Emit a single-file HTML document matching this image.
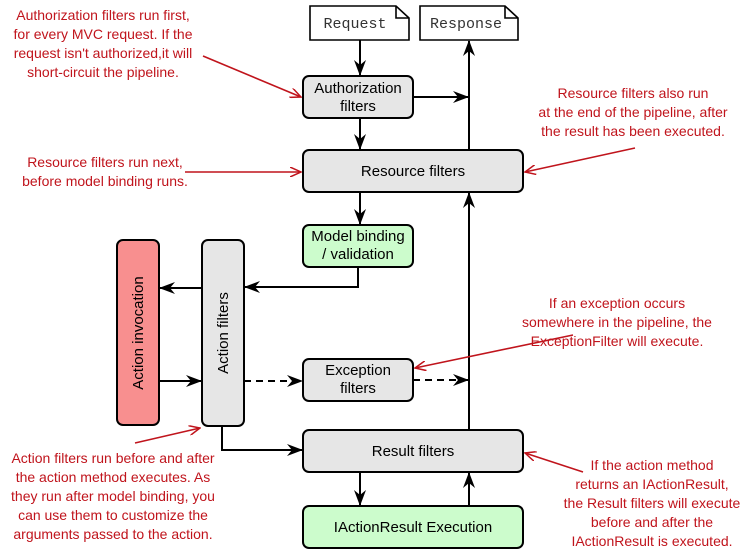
<!DOCTYPE html>
<html><head><style>
body{margin:0;background:#fff;}
svg{display:block;font-family:"Liberation Sans",Arial,sans-serif;}
.r{fill:#c0141c;font-size:14px;text-anchor:middle;}
.b{font-size:15px;text-anchor:middle;fill:#000;}
</style></head><body>
<svg width="755" height="556" viewBox="0 0 755 556" xmlns="http://www.w3.org/2000/svg">
<defs>
<marker id="a" markerWidth="16" markerHeight="12" refX="15" refY="6" orient="auto" markerUnits="userSpaceOnUse"><path d="M0,0 L16,6 L0,12 L5,6 Z" fill="#000"/></marker>
<marker id="ra" markerWidth="12" markerHeight="10" refX="11" refY="5" orient="auto" markerUnits="userSpaceOnUse"><path d="M0,0 L11,5 L0,10" fill="none" stroke="#c0141c" stroke-width="1.5"/></marker>
</defs>
<path d="M310,6 H396 L409,18 V40 H310 Z" fill="#fff" stroke="#000" stroke-width="1.6"/>
<path d="M396,6 V18 H409" fill="none" stroke="#000" stroke-width="1.6"/>
<text x="355" y="28" font-family="Liberation Mono,monospace" font-size="15" text-anchor="middle" fill="#333">Request</text>
<path d="M420,6 H505 L518,18 V40 H420 Z" fill="#fff" stroke="#000" stroke-width="1.6"/>
<path d="M505,6 V18 H518" fill="none" stroke="#000" stroke-width="1.6"/>
<text x="466" y="28" font-family="Liberation Mono,monospace" font-size="15" text-anchor="middle" fill="#333">Response</text>
<g stroke="#000" stroke-width="2" fill="none">
<line x1="360" y1="40" x2="360" y2="75" marker-end="url(#a)"/>
<line x1="360" y1="118" x2="360" y2="149" marker-end="url(#a)"/>
<line x1="413" y1="97" x2="468" y2="97" marker-end="url(#a)"/>
<line x1="469" y1="150" x2="469" y2="41" marker-end="url(#a)"/>
<line x1="469" y1="430" x2="469" y2="193" marker-end="url(#a)"/>
<line x1="360" y1="192" x2="360" y2="224" marker-end="url(#a)"/>
<polyline points="358,267 358,287 245,287" marker-end="url(#a)"/>
<line x1="202" y1="288" x2="160" y2="288" marker-end="url(#a)"/>
<line x1="159" y1="381" x2="201" y2="381" marker-end="url(#a)"/>
<line x1="244" y1="381" x2="302" y2="381" stroke-dasharray="7,5" marker-end="url(#a)"/>
<line x1="413" y1="380" x2="468" y2="380" stroke-dasharray="7,5" marker-end="url(#a)"/>
<polyline points="222,426 222,450 302,450" marker-end="url(#a)"/>
<line x1="360" y1="472" x2="360" y2="505" marker-end="url(#a)"/>
<line x1="469" y1="506" x2="469" y2="473" marker-end="url(#a)"/>
</g>
<g stroke="#000" stroke-width="2">
<rect x="303" y="76" width="110" height="42" rx="6" fill="#e6e6e6"/>
<rect x="303" y="150" width="220" height="42" rx="6" fill="#e6e6e6"/>
<rect x="303" y="225" width="110" height="42" rx="6" fill="#ccfccc"/>
<rect x="117" y="240" width="42" height="185" rx="6" fill="#f88f8f"/>
<rect x="202" y="240" width="42" height="186" rx="6" fill="#e6e6e6"/>
<rect x="303" y="359" width="110" height="42" rx="6" fill="#e6e6e6"/>
<rect x="303" y="430" width="220" height="42" rx="6" fill="#e6e6e6"/>
<rect x="303" y="506" width="220" height="42" rx="6" fill="#ccfccc"/>
</g>
<text class="b" x="358" y="93">Authorization</text>
<text class="b" x="358" y="111">filters</text>
<text class="b" x="413" y="176">Resource filters</text>
<text class="b" x="358" y="241">Model binding</text>
<text class="b" x="358" y="259">/ validation</text>
<text class="b" transform="translate(143,333) rotate(-90)">Action invocation</text>
<text class="b" transform="translate(228,333) rotate(-90)">Action filters</text>
<text class="b" x="358" y="375">Exception</text>
<text class="b" x="358" y="393">filters</text>
<text class="b" x="413" y="456">Result filters</text>
<text class="b" x="413" y="532">IActionResult Execution</text>
<text class="r" x="103" y="20">Authorization filters run first,</text>
<text class="r" x="103" y="39">for every MVC request. If the</text>
<text class="r" x="103" y="58">request isn't authorized,it will</text>
<text class="r" x="103" y="77">short-circuit the pipeline.</text>
<text class="r" x="105" y="167">Resource filters run next,</text>
<text class="r" x="105" y="186">before model binding runs.</text>
<text class="r" x="633" y="98">Resource filters also run</text>
<text class="r" x="633" y="117">at the end of the pipeline, after</text>
<text class="r" x="633" y="136">the result has been executed.</text>
<text class="r" x="617" y="308">If an exception occurs</text>
<text class="r" x="617" y="327">somewhere in the pipeline, the</text>
<text class="r" x="617" y="346">ExceptionFilter will execute.</text>
<text class="r" x="113" y="463">Action filters run before and after</text>
<text class="r" x="113" y="482">the action method executes. As</text>
<text class="r" x="113" y="501">they run after model binding, you</text>
<text class="r" x="113" y="520">can use them to customize the</text>
<text class="r" x="113" y="539">arguments passed to the action.</text>
<text class="r" x="652" y="470">If the action method</text>
<text class="r" x="652" y="489">returns an IActionResult,</text>
<text class="r" x="652" y="508">the Result filters will execute</text>
<text class="r" x="652" y="527">before and after the</text>
<text class="r" x="652" y="546">IActionResult is executed.</text>
<g stroke="#c0141c" stroke-width="1.6" fill="none">
<line x1="203" y1="56" x2="301" y2="97" marker-end="url(#ra)"/>
<line x1="185" y1="172" x2="301" y2="172" marker-end="url(#ra)"/>
<line x1="635" y1="148" x2="525" y2="172" marker-end="url(#ra)"/>
<line x1="573" y1="335" x2="415" y2="368" marker-end="url(#ra)"/>
<line x1="135" y1="443" x2="200" y2="428" marker-end="url(#ra)"/>
<line x1="583" y1="472" x2="525" y2="453" marker-end="url(#ra)"/>
</g>
</svg>
</body></html>
